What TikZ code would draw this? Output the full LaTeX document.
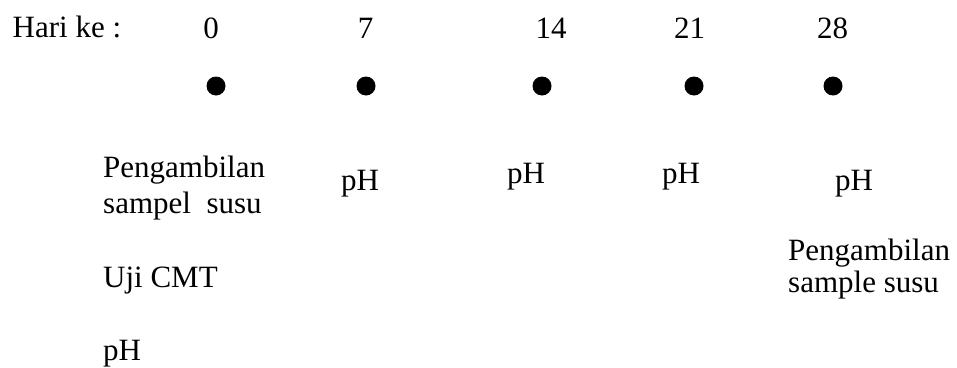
\documentclass[tikz,border=0pt]{standalone}
\usepackage{fontspec}
\setmainfont{Liberation Serif}
\begin{document}
\begin{tikzpicture}[x=1pt,y=-1pt,
  txt/.style={inner sep=0pt,font=\fontsize{31}{31}\selectfont},
  lbl/.style={txt,anchor=base west},
  num/.style={txt,anchor=base},
  dot/.style={circle,fill=black,inner sep=0pt,minimum size=19pt}]
\useasboundingbox (0,0) rectangle (957,367);
\node[lbl] (hari) at (12.5,37.8) {Hari ke :};
\node[num] (n0) at (211,38.3) {0};
\node[num] (n7) at (365.5,38.3) {7};
\node[num] (n14) at (551,38.3) {14};
\node[num] (n21) at (689.5,38.3) {21};
\node[num] (n28) at (832.5,38.3) {28};
\node[dot] (d0) at (216,86) {};
\node[dot] (d7) at (366,86) {};
\node[dot] (d14) at (542,86) {};
\node[dot] (d21) at (694,86) {};
\node[dot] (d28) at (833,86) {};
\node[lbl] (a1) at (103,177) {Pengambilan};
\node[lbl] (a2) at (103,213) {sampel~~susu};
\node[lbl] (a3) at (103,287) {Uji CMT};
\node[lbl] (a4) at (103,360) {pH};
\node[num] (p7) at (360,190) {pH};
\node[num] (p14) at (526,183) {pH};
\node[num] (p21) at (681,183) {pH};
\node[num] (p28) at (854,190) {pH};
\node[lbl] (b1) at (788,260) {Pengambilan};
\node[lbl] (b2) at (788,292) {sample susu};
\end{tikzpicture}
\end{document}
